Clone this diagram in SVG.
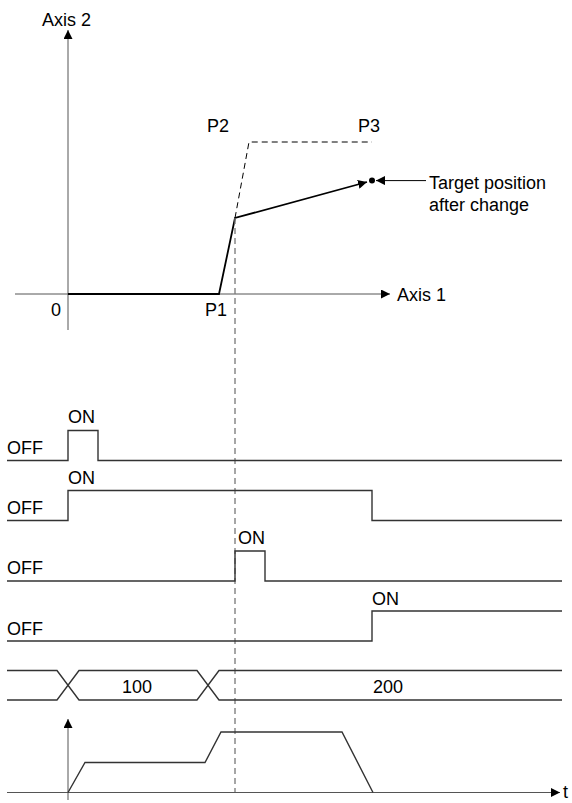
<svg xmlns="http://www.w3.org/2000/svg" width="572" height="803" viewBox="0 0 572 803">
<defs>
<marker id="arr" viewBox="0 0 10 10" refX="10" refY="5" markerWidth="9" markerHeight="9" markerUnits="userSpaceOnUse" orient="auto"><path d="M0,0 L10,5 L0,10 z" fill="#000"/></marker>
</defs>
<style>
text{font-family:"Liberation Sans",Arial,sans-serif;font-size:18px;fill:#000}
.ax{stroke:#555;stroke-width:1;fill:none}
.sig{stroke:#333;stroke-width:1.4;fill:none}
.dash{stroke:#000;stroke-width:1;stroke-dasharray:6 4;fill:none}
.vd{stroke:#777;stroke-width:1.3;stroke-dasharray:6 4;fill:none}
.path{stroke:#000;stroke-width:1.8;fill:none}
</style>
<rect width="572" height="803" fill="#fff"/>
<g id="position-graph">
<line class="ax" x1="68" y1="330" x2="68" y2="30" marker-end="url(#arr)"/>
<line class="ax" x1="15" y1="294" x2="390" y2="294" marker-end="url(#arr)"/>
<polyline class="dash" points="235,218 249,142 372,142"/>
<polyline class="path" points="68,294 219,294 235,218 367,182" marker-end="url(#arr)"/>
<circle cx="372" cy="180.6" r="3" fill="#000"/>
<line stroke="#000" stroke-width="1" x1="426" y1="180.6" x2="376" y2="180.6" marker-end="url(#arr)"/>
<text x="42" y="26">Axis 2</text>
<text x="397" y="301">Axis 1</text>
<text x="51" y="316">0</text>
<text x="205" y="316">P1</text>
<text x="207" y="132">P2</text>
<text x="358" y="132">P3</text>
<text x="429" y="188.5">Target position</text>
<text x="429" y="211">after change</text>
</g>
<g id="connectors">
<line class="vd" x1="235" y1="218" x2="235" y2="792"/>
</g>
<g id="signal1">
<polyline class="sig" points="7,460.5 68,460.5 68,430.5 98,430.5 98,460.5 562,460.5"/>
<text x="68" y="423">ON</text><text x="7" y="454">OFF</text>
</g>
<g id="signal2">
<polyline class="sig" points="7,520.5 68,520.5 68,490.5 372,490.5 372,520.5 562,520.5"/>
<text x="68" y="484">ON</text><text x="7" y="514">OFF</text>
</g>
<g id="signal3">
<polyline class="sig" points="7,581 235,581 235,551 265,551 265,581 562,581"/>
<text x="238" y="544">ON</text><text x="7" y="574">OFF</text>
</g>
<g id="signal4">
<polyline class="sig" points="7,641 372,641 372,611 562,611"/>
<text x="372" y="605">ON</text><text x="7" y="635">OFF</text>
</g>
<g id="bus">
<path class="sig" d="M7,670.5 H57 L79,700 H197 L219,670.5 H562"/>
<path class="sig" d="M7,700 H57 L79,670.5 H197 L219,700 H562"/>
<text x="137" y="693" text-anchor="middle">100</text>
<text x="388" y="693" text-anchor="middle">200</text>
</g>
<g id="velocity-graph">
<line class="ax" x1="68" y1="800" x2="68" y2="719" marker-end="url(#arr)"/>
<line class="ax" x1="7" y1="792.5" x2="560" y2="792.5" marker-end="url(#arr)"/>
<polyline class="sig" points="68,792.5 85,762.5 205,762.5 221,732 342,732 373,792.5"/>
<text x="563" y="798">t</text>
</g>
</svg>
